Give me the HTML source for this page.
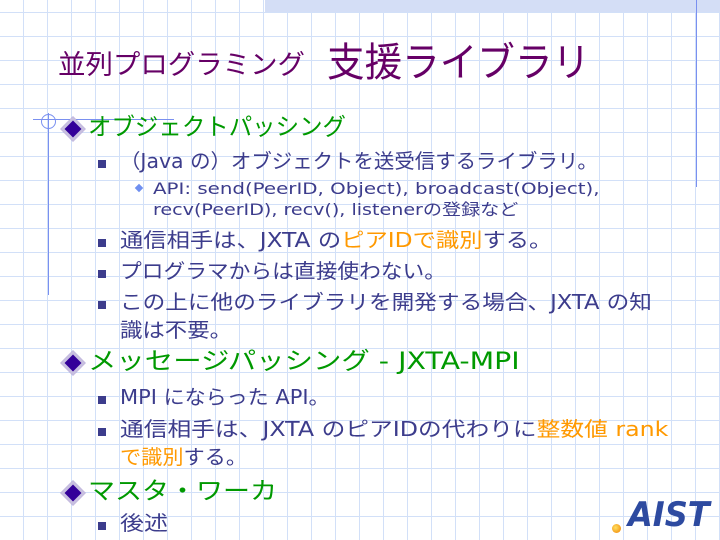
<!DOCTYPE html>
<html><head><meta charset="utf-8"><style>
html,body{margin:0;padding:0}
body{width:720px;height:540px;position:relative;overflow:hidden;background:#fff;
background-image:repeating-linear-gradient(90deg,transparent 0 23px,#d2e0f8 23px 24px),repeating-linear-gradient(0deg,transparent 0 23px,#d2e0f8 23px 24px);
font-family:"DejaVu Sans","Noto Sans CJK JP",sans-serif;}
.t{position:absolute;white-space:nowrap;line-height:1;transform-origin:0 0;}
.l1{color:#009900;font-size:24px;left:88px}
.l2{color:#3c3c8c;font-size:20px;left:120px}
.l3{color:#3c3c8c;font-size:16px;left:153px}
.o{color:#ff9900}
.sq{position:absolute;left:98px;width:8px;height:8px;background:#3c3c8c}
.dm{position:absolute;left:64px;width:12px;height:12px;background:#330099;border:3px solid #c8c0e0;transform:rotate(45deg)}
</style></head><body>
<div style="position:absolute;left:265px;top:0;width:455px;height:12px;background:#d4def6"></div>
<div style="position:absolute;left:696px;top:0;width:1px;height:187px;background:#7a90f0"></div>
<div style="position:absolute;left:48px;top:113px;width:1px;height:182px;background:#7a90f0"></div>
<div style="position:absolute;left:33px;top:119px;width:141px;height:1px;background:#7a90f0"></div>
<div style="position:absolute;left:41px;top:114px;width:13px;height:13px;border:1px solid #7a90f0;border-radius:50%"></div>
<div class="t" style="left:58px;top:52px;font-size:27px;color:#660066;--w:247">並列プログラミング</div>
<div class="t" style="left:327px;top:43px;font-size:40px;color:#660066;--w:263">支援ライブラリ</div>

<div class="dm" style="top:120px"></div>
<div class="t l1" style="top:115px;--w:258">オブジェクトパッシング</div>
<div class="sq" style="top:160px"></div>
<div class="t l2" style="top:151px;--w:478">（Java の）オブジェクトを送受信するライブラリ。</div>
<div style="position:absolute;left:136px;top:185px;width:6px;height:6px;background:#6f8ff0;transform:rotate(45deg)"></div>
<div class="t l3" style="top:181px;--w:447">API: send(PeerID, Object), broadcast(Object),</div>
<div class="t l3" style="top:202px;--w:365">recv(PeerID), recv(), listenerの登録など</div>
<div class="sq" style="top:239px"></div>
<div class="t l2" style="top:230px;--w:432">通信相手は、JXTA の<span class="o">ピアIDで識別</span>する。</div>
<div class="sq" style="top:270px"></div>
<div class="t l2" style="top:261px;--w:326">プログラマからは直接使わない。</div>
<div class="sq" style="top:301px"></div>
<div class="t l2" style="top:292px;--w:532">この上に他のライブラリを開発する場合、JXTA の知</div>
<div class="t l2" style="top:320px;--w:112">識は不要。</div>

<div class="dm" style="top:354px"></div>
<div class="t l1" style="top:349px;--w:432">メッセージパッシング - JXTA-MPI</div>
<div class="sq" style="top:396px"></div>
<div class="t l2" style="top:387px;--w:210">MPI にならった API。</div>
<div class="sq" style="top:428px"></div>
<div class="t l2" style="top:419px;--w:548">通信相手は、JXTA のピアIDの代わりに<span class="o">整数値 rank</span></div>
<div class="t l2" style="top:447px;--w:127"><span class="o">で識別</span>する。</div>

<div class="dm" style="top:484px"></div>
<div class="t l1" style="top:479px;--w:189">マスタ・ワーカ</div>
<div class="sq" style="top:522px"></div>
<div class="t l2" style="top:513px;--w:48">後述</div>

<div style="position:absolute;left:612px;top:524px;width:9px;height:9px;border-radius:50%;background:radial-gradient(circle at 40% 40%,#ffe060,#f08000)"></div>
<div style="position:absolute;left:624px;top:498px;width:92px;height:38px;overflow:hidden">
<div class="t" style="left:4px;top:0;font-size:34px;font-weight:bold;font-style:italic;color:#2d4aa0;--w:82">AIST</div>
</div>
<script>
document.querySelectorAll('.t').forEach(function(e){
 var w=parseFloat(getComputedStyle(e).getPropertyValue('--w'));
 if(w){var s=w/e.offsetWidth;e.style.transform='scaleX('+s+')';}
});
</script>
</body></html>
